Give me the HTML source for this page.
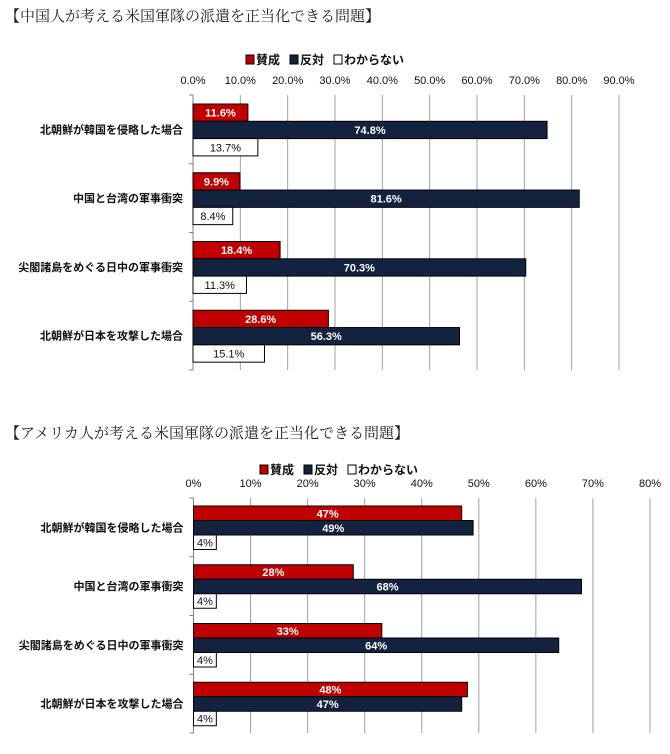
<!DOCTYPE html>
<html><head><meta charset="utf-8">
<style>
body{margin:0;background:#fff;width:670px;height:749px;overflow:hidden;}
svg text{font-family:"Liberation Sans","Noto Sans CJK JP",sans-serif;}
.title{font-family:"Liberation Serif","Noto Serif CJK SC",serif;font-size:15px;fill:#222;}
</style></head>
<body>
<svg id="svg" width="670" height="749" xmlns="http://www.w3.org/2000/svg">
<text class="title" x="5" y="21">【中国人が考える米国軍隊の派遣を正当化できる問題】</text>
<text class="title" x="5" y="438">【アメリカ人が考える米国軍隊の派遣を正当化できる問題】</text>
</svg>
<script>
const categories = ["北朝鮮が韓国を侵略した場合","中国と台湾の軍事衝突","尖閣諸島をめぐる日中の軍事衝突","北朝鮮が日本を攻撃した場合"];
const seriesNames = ["賛成","反対","わからない"];
const cnAgree = [11.6, 9.9, 18.4, 28.6];
const cnOppose = [74.8, 81.6, 70.3, 56.3];
const cnUnknown = [13.7, 8.4, 11.3, 15.1];
const cnTicks = ["0.0%","10.0%","20.0%","30.0%","40.0%","50.0%","60.0%","70.0%","80.0%","90.0%"];
const usAgree = [47, 28, 33, 48];
const usOppose = [49, 68, 64, 47];
const usUnknown = [4, 4, 4, 4];
const usTicks = ["0%","10%","20%","30%","40%","50%","60%","70%","80%"];

const NS="http://www.w3.org/2000/svg";
const svg=document.getElementById('svg');
function mk(tag,attrs){const e=document.createElementNS(NS,tag);for(const k in attrs)e.setAttribute(k,attrs[k]);svg.appendChild(e);return e;}
const fills=["#c00000","#13233f","#ffffff"];

function drawChart(id,series,ticks,decimals,cfg){
  const max=(ticks.length-1)*10;
  const xs=v=>cfg.x0+(v/max)*(cfg.x1-cfg.x0);
  const bottom=cfg.top+cfg.band*categories.length;
  // legend
  let lx=cfg.legendX;
  seriesNames.forEach((n,i)=>{
    const r=mk('rect',{x:lx,y:cfg.legendY-9,width:8,height:9,fill:fills[i],stroke:'#000','stroke-width':1});
    
    
    const t=mk('text',{x:lx+10,y:cfg.legendY,'font-size':12,'font-weight':'bold',fill:'#111'});
    t.textContent=n;
    
    
    lx+=10+n.length*12+10;
  });
  // grid + ticks
  ticks.forEach((lab,i)=>{
    const x=xs(i*10);
    if(i>0){const g=mk('line',{x1:x,y1:cfg.top,x2:x,y2:bottom,stroke:'#a0a0a0','stroke-width':1});
      
      }
    const t=mk('text',{x:x,y:cfg.tickY,'font-size':11,'text-anchor':'middle',fill:'#111'});
    t.textContent=lab;
    
    
  });
  const ax=mk('line',{x1:cfg.x0,y1:cfg.top,x2:cfg.x0,y2:bottom,stroke:'#808080','stroke-width':1});
  
  
  for(let k=0;k<=categories.length;k++){
    const y=cfg.top+k*cfg.band;
    const tk=mk('line',{x1:cfg.x0-4,y1:y,x2:cfg.x0,y2:y,stroke:'#808080'});
    
    
  }
  categories.forEach((c,ci)=>{
    const bt=cfg.top+ci*cfg.band;
    const t=mk('text',{x:cfg.x0-10,y:bt+cfg.band/2+4,'font-size':11,'font-weight':'bold','text-anchor':'end',fill:'#111'});
    t.textContent=c;
    
    
    series.forEach((arr,si)=>{
      const v=arr[ci];
      const y=bt+cfg.off+si*cfg.bh;
      const w=xs(v)-cfg.x0;
      const r=mk('rect',{x:cfg.x0,y:y,width:w,height:cfg.bh,fill:fills[si],stroke:'#000','stroke-width':1});
      
      
      const lbl=mk('text',{x:cfg.x0+Math.max(w/2,10),y:y+cfg.bh/2+4,'font-size':11,'font-weight':si<2?'bold':'normal','text-anchor':'middle',fill:si<2?'#fff':'#111'});
      lbl.textContent=v.toFixed(decimals)+'%';
      
      
    });
  });
}
drawChart('cn',[cnAgree,cnOppose,cnUnknown],cnTicks,1,{x0:193,x1:619,top:95,band:68.75,off:9,bh:17.3,tickY:84,legendY:64,legendX:246});
drawChart('us',[usAgree,usOppose,usUnknown],usTicks,0,{x0:193.5,x1:650,top:498,band:58.75,off:8,bh:14.5,tickY:487,legendY:474,legendX:260});
</script>
</body></html>
